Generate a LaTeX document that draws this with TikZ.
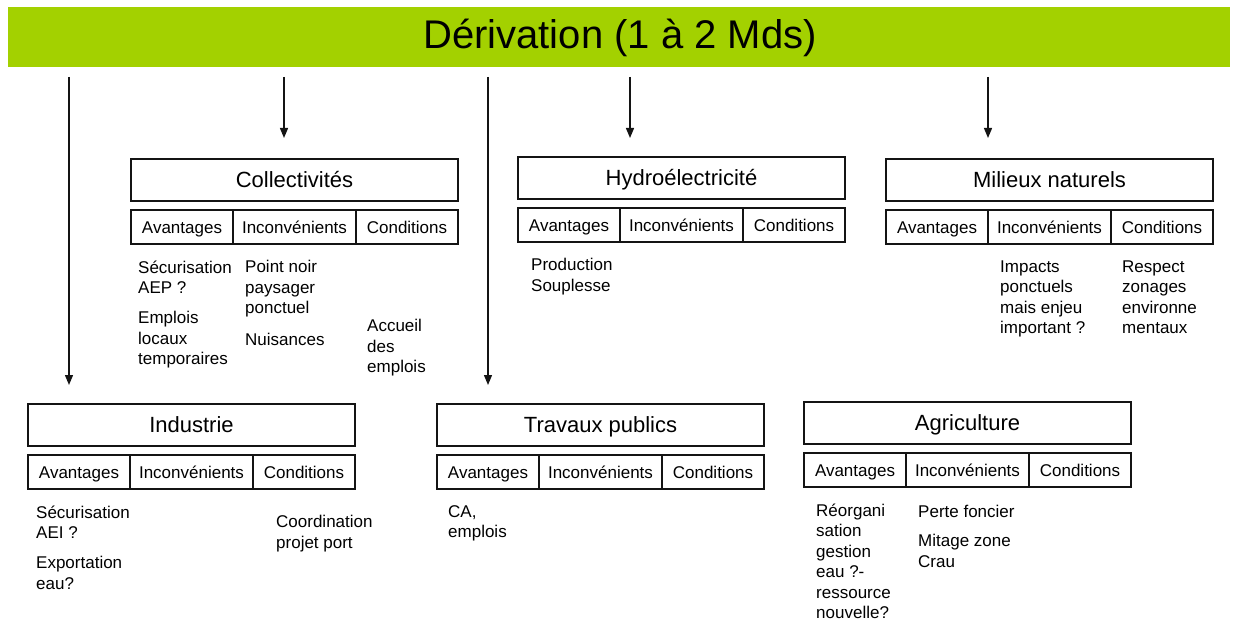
\documentclass[tikz,border=0pt]{standalone}
\usepackage{fontspec}
\setmainfont{Liberation Sans}
\usetikzlibrary{arrows.meta}
\definecolor{bargreen}{RGB}{163,209,0}
\definecolor{ink}{RGB}{20,20,20}
\newcommand\panel[4]{%
  \node[titlebox] (#1) at ({#2+163.5},{#3+21}) {#4};
  \node[cellbox, minimum width=102] (#1-a) at ({#2+51},{#3+68}) {Avantages};
  \node[cellbox, minimum width=123] (#1-i) at ({#2+163.5},{#3+68}) {Inconvénients};
  \node[cellbox, minimum width=102] (#1-c) at ({#2+276},{#3+68}) {Conditions};
}
\begin{document}
\begin{tikzpicture}[x=1pt,y=-1pt,
  titlebox/.style={draw=ink, line width=1.2pt, inner sep=0, minimum width=327, minimum height=42,
     text height=15.8pt, text depth=0pt, font=\fontsize{22}{26}\selectfont},
  cellbox/.style={draw=ink, line width=1.2pt, inner sep=0, minimum height=34,
     text height=12.2pt, text depth=0pt, font=\fontsize{17}{20}\selectfont},
  txt/.style={anchor=north west, align=left, inner sep=0, font=\fontsize{17}{20.5}\selectfont,
     yshift=12.6pt, execute at begin node=\strut},
  arr/.style={draw=ink, line width=1.3pt, -{Triangle[length=10pt,width=8pt]}}]
\useasboundingbox (0,0) rectangle (1238,620);
\node[fill=bargreen, minimum width=1222, minimum height=60, inner sep=0] (bar) at (619,37) {};
\node[font=\fontsize{40}{46}\selectfont, inner sep=0] (bartext) at (620,38) {Dérivation (1 à 2 Mds)};

\panel{col}{131}{159}{Collectivités}
\panel{hyd}{518}{157}{Hydroélectricité}
\panel{mil}{886}{159}{Milieux naturels}
\panel{ind}{28}{404}{Industrie}
\panel{tp}{437}{404}{Travaux publics}
\panel{agr}{804}{402}{Agriculture}

% arrows
\coordinate (s1) at (69,77);  \coordinate (e1) at (69,385);
\coordinate (s2) at (284,77); \coordinate (e2) at (284,138);
\coordinate (s3) at (488,77); \coordinate (e3) at (488,385);
\coordinate (s4) at (630,77); \coordinate (e4) at (630,138);
\coordinate (s5) at (988,77); \coordinate (e5) at (988,138);
\draw[arr] (s1) -- (e1);
\draw[arr] (s2) -- (e2);
\draw[arr] (s3) -- (e3);
\draw[arr] (s4) -- (e4);
\draw[arr] (s5) -- (e5);

% Collectivités
\node[txt] (col1) at (138,273) {Sécurisation\\AEP ?};
\node[txt] (col2) at (138,324) {Emplois\\locaux\\temporaires};
\node[txt] (col3) at (245,273) {Point noir\\paysager\\ponctuel};
\node[txt] (col4) at (245,344) {Nuisances};
\node[txt] (col5) at (367,332) {Accueil\\des\\emplois};
% Hydro
\node[txt] (hyd1) at (531,271) {Production\\Souplesse};
% Milieux
\node[txt] (mil1) at (1000,273) {Impacts\\ponctuels\\mais enjeu\\important ?};
\node[txt] (mil2) at (1122,273) {Respect\\zonages\\environne\\mentaux};
% Industrie
\node[txt] (ind1) at (36,518) {Sécurisation\\AEI ?};
\node[txt] (ind2) at (36,569) {Exportation\\eau?};
\node[txt] (ind3) at (276,528) {Coordination\\projet port};
% Travaux publics
\node[txt] (tp1) at (448,518) {CA,\\emplois};
% Agriculture
\node[txt] (agr1) at (816,516) {Réorgani\\sation\\gestion\\eau ?-\\ressource\\nouvelle?};
\node[txt] (agr2) at (918,516) {Perte foncier};
\node[txt] (agr3) at (918,547) {Mitage zone\\Crau};
\end{tikzpicture}
\end{document}
